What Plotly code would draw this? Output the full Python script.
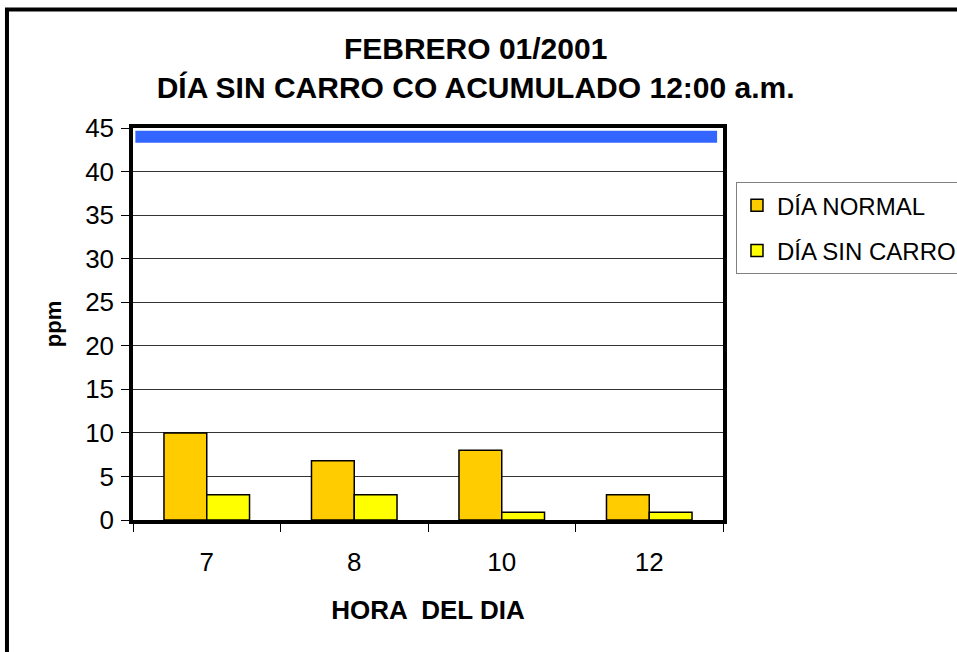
import plotly.graph_objects as go

# datos
horas = ["7", "8", "10", "12"]
dia_normal = [10, 6.8, 8, 2.9]
dia_sin_carro = [2.9, 2.9, 0.9, 0.9]
limite = 44  # linea azul

FONT = "Arial, Liberation Sans, sans-serif"

fig = go.Figure()
fig.add_trace(
    go.Bar(
        x=horas,
        y=dia_normal,
        name="DÍA NORMAL",
        legendgroup="a",
        marker=dict(color="#FFCC00", line=dict(color="black", width=1.5)),
    )
)
fig.add_trace(
    go.Bar(
        x=horas,
        y=dia_sin_carro,
        name="DÍA SIN CARRO",
        legendgroup="b",
        marker=dict(color="#FFFF00", line=dict(color="black", width=1.5)),
    )
)

# linea de referencia azul
fig.add_shape(
    type="line",
    xref="x domain",
    yref="y",
    x0=0.004,
    x1=0.99,
    y0=limite,
    y1=limite,
    line=dict(color="#3366FF", width=12),
    layer="above",
)

# marco exterior (recortado en la imagen original)
fig.add_shape(
    type="rect",
    xref="paper",
    yref="paper",
    x0=-0.2136,
    x1=1.6,
    y0=-0.6,
    y1=1.302,
    line=dict(color="black", width=4),
    layer="above",
)

fig.update_layout(
    width=957,
    height=652,
    margin=dict(l=133, r=234, t=128, b=132, autoexpand=False),
    paper_bgcolor="white",
    plot_bgcolor="white",
    font=dict(family=FONT, size=26, color="black"),
    title=dict(
        text="<b>FEBRERO 01/2001<br>DÍA SIN CARRO CO ACUMULADO 12:00 a.m.</b>",
        x=0.497,
        xanchor="center",
        yref="container",
        y=0.91,
        yanchor="top",
        font=dict(family=FONT, size=30, color="black"),
    ),
    bargap=0.42,
    bargroupgap=0,
    legend=dict(
        x=1.022,
        xanchor="left",
        y=0.862,
        yanchor="top",
        bgcolor="white",
        bordercolor="#808080",
        borderwidth=1,
        font=dict(family=FONT, size=24),
        traceorder="grouped",
        tracegroupgap=11,
    ),
    xaxis=dict(
        type="category",
        showline=True,
        linecolor="black",
        linewidth=3.5,
        mirror=True,
        ticks="outside",
        tickson="boundaries",
        ticklen=8,
        tickcolor="black",
        tickwidth=1,
        ticklabelstandoff=16,
        showgrid=False,
        title=dict(text="<b>HORA  DEL DIA</b>", standoff=26, font=dict(size=26)),
    ),
    yaxis=dict(
        range=[0, 45],
        dtick=5,
        showline=True,
        linecolor="black",
        linewidth=3.5,
        mirror=True,
        ticks="outside",
        ticklen=8,
        tickcolor="black",
        tickwidth=1,
        ticklabelstandoff=2,
        showgrid=True,
        gridcolor="#333333",
        gridwidth=1,
        zeroline=False,
        title=dict(text="<b>ppm</b>", standoff=18, font=dict(size=22)),
    ),
)

fig.write_html(
    "out.html",
    config={"displayModeBar": False},
    post_script="document.body.style.margin='0px';",
)
